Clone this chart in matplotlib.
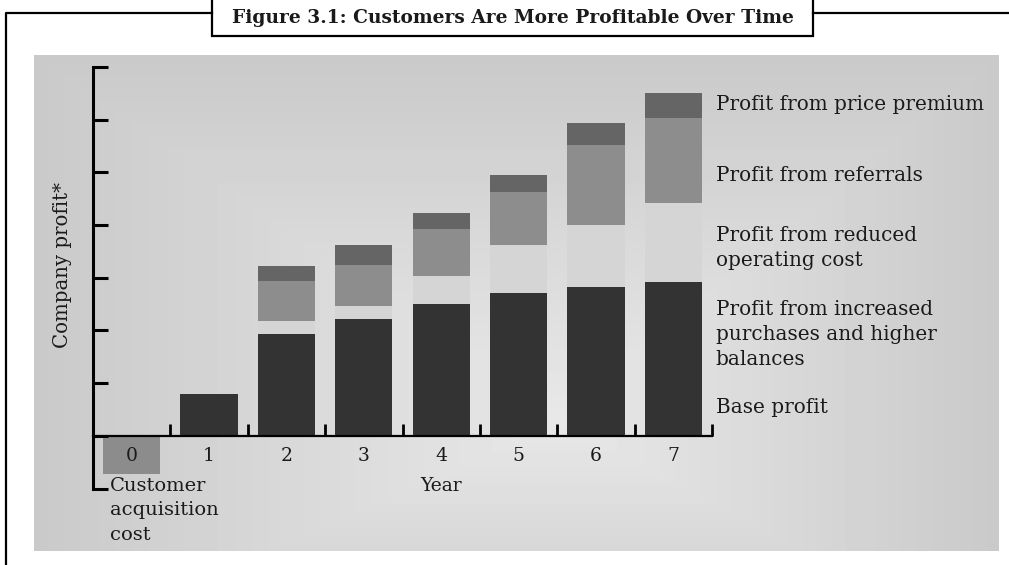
import numpy as np
import matplotlib.pyplot as plt
from matplotlib.patches import Rectangle

years = [0, 1, 2, 3, 4, 5, 6, 7]
acquisition_cost = [-0.72, 0, 0, 0, 0, 0, 0, 0]
base_profit = [0, 0.80, 0.80, 0.80, 0.80, 0.80, 0.80, 0.80]
increased_purchases = [0, 0, 1.13, 1.42, 1.71, 1.91, 2.02, 2.12]
reduced_cost = [0, 0, 0.25, 0.25, 0.52, 0.91, 1.19, 1.50]
referrals = [0, 0, 0.75, 0.77, 0.90, 1.01, 1.51, 1.62]
price_premium = [0, 0, 0.30, 0.38, 0.29, 0.32, 0.41, 0.46]

segment_labels = ["Base profit",
                  "Profit from increased\npurchases and higher\nbalances",
                  "Profit from reduced\noperating cost",
                  "Profit from referrals",
                  "Profit from price premium"]
label_y = [0.53, 1.92, 3.56, 4.95, 6.29]

title = "Figure 3.1: Customers Are More Profitable Over Time"

W, H = 1009, 565
fig = plt.figure(figsize=(W / 100, H / 100), dpi=100)
plt.rcParams['font.family'] = ['DejaVu Serif']
txt = '#1a1a1a'

# background layer in pixel coords
bg = fig.add_axes([0, 0, 1, 1])
bg.set_xlim(0, W)
bg.set_ylim(H, 0)
bg.axis('off')

# grey panel with rectangular gradient
x0, x1, y0, y1 = 34, 999, 55, 551
cx, cy = 560, 420
xs = np.arange(x0, x1) + 0.5
ys = np.arange(y0, y1) + 0.5
dx = np.where(xs < cx, (cx - xs) / (cx - x0), (xs - cx) / (x1 - cx))
dy = np.where(ys < cy, (cy - ys) / (cy - y0), 0.55 * (ys - cy) / (y1 - cy))
d = np.maximum(dx[None, :], dy[:, None])
grad = 0.91 - 0.12 * d
bg.imshow(grad, cmap='gray', vmin=0, vmax=1, extent=(x0, x1, y1, y0),
          aspect='auto', interpolation='bilinear')

# outer frame and title box
bg.plot([6, 6, 212], [H, 12.5, 12.5], color='black', lw=1.6, solid_capstyle='projecting')
bg.plot([813, W], [12.5, 12.5], color='black', lw=1.6)
bg.add_patch(Rectangle((212, -3), 601, 39, facecolor='white', edgecolor='black', lw=1.6))
bg.text(512.5, 18, title, ha='center', va='center', fontsize=13.4,
        fontweight='bold', color=txt)

# main chart
ax = fig.add_axes([93 / W, 1 - 488.5 / H, (712 - 93) / W, (488.5 - 67) / H])
ax.patch.set_alpha(0)
ax.set_xlim(-0.5, 7.5)
ax.set_ylim(-1, 7)

bw = 0.74
ax.bar(years, acquisition_cost, width=bw, color='#8c8c8c', lw=0)
bottom = np.zeros(len(years))
for vals, col in [(base_profit, '#333333'), (increased_purchases, '#333333'),
                  (reduced_cost, '#d5d5d5'), (referrals, '#8d8d8d'),
                  (price_premium, '#656565')]:
    ax.bar(years, vals, width=bw, bottom=bottom, color=col, lw=0)
    bottom += np.array(vals)

for s in ['top', 'right']:
    ax.spines[s].set_visible(False)
ax.spines['left'].set_linewidth(2.2)
ax.spines['left'].set_bounds(-1, 7)
ax.spines['bottom'].set_position(('data', 0))
ax.spines['bottom'].set_linewidth(1.6)

ax.set_yticks(range(-1, 8))
ax.tick_params(axis='y', direction='in', length=11, width=2.2, labelleft=False)
ax.set_xticks(years)
ax.set_xticklabels([str(y) for y in years], fontsize=13.5, color=txt)
ax.tick_params(axis='x', which='major', length=0, pad=8)
ax.set_xticks(np.arange(0.5, 8, 1), minor=True)
ax.tick_params(axis='x', which='minor', direction='in', length=8.5, width=2)

ax.text(4, -0.95, "Year", ha='center', va='center', fontsize=13.5, color=txt)
ax.text(-0.28, -0.78, "Customer\nacquisition\ncost", ha='left', va='top',
        fontsize=14, color=txt, linespacing=1.45)
fig.text(63 / W, 1 - 265 / H, "Company profit*", rotation=90, ha='center',
         va='center', fontsize=14.2, color=txt)

for lab, yy in zip(segment_labels, label_y):
    ax.text(7.55, yy, lab, ha='left', va='center', fontsize=14.4, color=txt,
            linespacing=1.42, clip_on=False)

fig.savefig('out.png', dpi=100)
